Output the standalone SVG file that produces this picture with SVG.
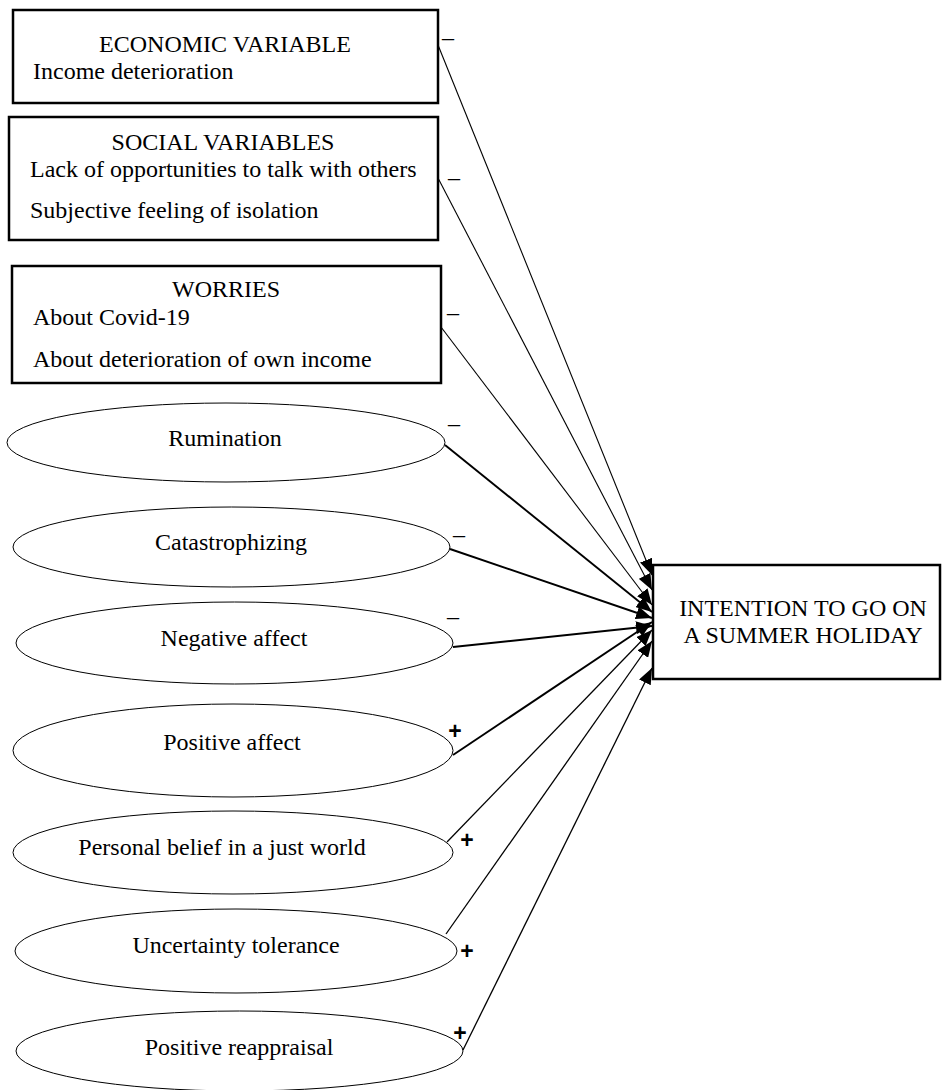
<svg xmlns="http://www.w3.org/2000/svg" width="943" height="1090" viewBox="0 0 943 1090">
<defs>
<style>
.box{fill:#fff;stroke:#000;stroke-width:2.5}
.ell{fill:#fff;stroke:#000;stroke-width:1}
.t{font-family:"Liberation Serif","Times New Roman",serif;font-size:24px;fill:#000}
.c{text-anchor:middle}
.m{font-family:"Liberation Serif","Times New Roman",serif;font-size:24px;fill:#000;text-anchor:middle}
.p{font-family:"Liberation Sans",Arial,sans-serif;font-size:23px;font-weight:bold;fill:#000;text-anchor:middle}
.l1{stroke:#000;stroke-width:1.1;fill:none;marker-end:url(#ah)}
.l2{stroke:#000;stroke-width:1.9;fill:none;marker-end:url(#ah)}
.l3{stroke:#000;stroke-width:1.3;fill:none;marker-end:url(#ah)}
</style>
<marker id="ah" markerUnits="userSpaceOnUse" markerWidth="17" markerHeight="13" refX="16" refY="6.5" orient="auto">
<path d="M0,0 L16,6.5 L0,13 Z" fill="#000"/>
</marker>
</defs>
<rect width="943" height="1090" fill="#fff"/>

<g id="connectors">
<line class="l1" x1="438" y1="45" x2="652" y2="575"/>
<line class="l1" x1="438" y1="178" x2="652" y2="590"/>
<line class="l1" x1="441" y1="327" x2="652" y2="605"/>
<line class="l2" x1="445" y1="445" x2="652" y2="612"/>
<line class="l2" x1="450" y1="549" x2="652" y2="618"/>
<line class="l2" x1="453" y1="647" x2="652" y2="626"/>
<line class="l2" x1="453" y1="755" x2="652" y2="622"/>
<line class="l3" x1="447" y1="842" x2="652" y2="630"/>
<line class="l3" x1="446" y1="934" x2="652" y2="641"/>
<line class="l3" x1="463" y1="1050" x2="652" y2="668"/>
<text class="m" x="448" y="45">–</text>
<text class="m" x="454" y="185">–</text>
<text class="m" x="453" y="320">–</text>
<text class="m" x="454" y="431">–</text>
<text class="m" x="459" y="542">–</text>
<text class="m" x="453" y="624">–</text>
<text class="p" x="455" y="739">+</text>
<text class="p" x="467" y="848">+</text>
<text class="p" x="467" y="959">+</text>
<text class="p" x="460" y="1041">+</text>
</g>

<g id="economic">
<rect class="box" x="13" y="10" width="425" height="93"/>
<text class="t c" x="225" y="52">ECONOMIC VARIABLE</text>
<text class="t" x="33" y="79">Income deterioration</text>
</g>

<g id="social">
<rect class="box" x="9" y="117" width="429" height="123"/>
<text class="t c" x="223" y="150">SOCIAL VARIABLES</text>
<text class="t" x="30" y="177">Lack of opportunities to talk with others</text>
<text class="t" x="30" y="218">Subjective feeling of isolation</text>
</g>

<g id="worries">
<rect class="box" x="12" y="266" width="429" height="117"/>
<text class="t c" x="226" y="297">WORRIES</text>
<text class="t" x="33" y="325">About Covid-19</text>
<text class="t" x="33" y="367">About deterioration of own income</text>
</g>

<g id="rumination">
<ellipse class="ell" cx="226" cy="442.5" rx="219" ry="39.5"/>
<text class="t c" x="225" y="446">Rumination</text>
</g>

<g id="catastrophizing">
<ellipse class="ell" cx="231.5" cy="547" rx="218.5" ry="40"/>
<text class="t c" x="231" y="550">Catastrophizing</text>
</g>

<g id="negative-affect">
<ellipse class="ell" cx="234.5" cy="643" rx="218.5" ry="41"/>
<text class="t c" x="234" y="646">Negative affect</text>
</g>

<g id="positive-affect">
<ellipse class="ell" cx="233" cy="750.5" rx="220" ry="46.5"/>
<text class="t c" x="232" y="750">Positive affect</text>
</g>

<g id="just-world">
<ellipse class="ell" cx="233" cy="852.5" rx="220" ry="41.5"/>
<text class="t c" x="222" y="855">Personal belief in a just world</text>
</g>

<g id="uncertainty">
<ellipse class="ell" cx="236" cy="951" rx="221" ry="42"/>
<text class="t c" x="236" y="953">Uncertainty tolerance</text>
</g>

<g id="reappraisal">
<ellipse class="ell" cx="239.5" cy="1051" rx="223.5" ry="40"/>
<text class="t c" x="239" y="1055">Positive reappraisal</text>
</g>

<g id="intention">
<rect class="box" x="653" y="565" width="287" height="114"/>
<text class="t c" x="803" y="616">INTENTION TO GO ON</text>
<text class="t c" x="803" y="643">A SUMMER HOLIDAY</text>
</g>
</svg>
